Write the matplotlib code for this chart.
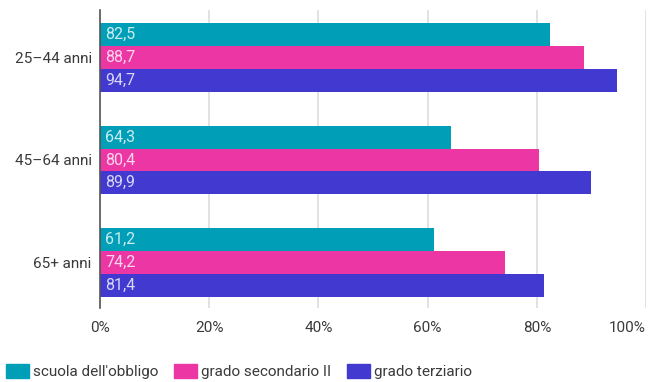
import matplotlib.pyplot as plt
from matplotlib.patches import Patch
import numpy as np

plt.rcParams['font.family'] = ['Roboto', 'DejaVu Sans']

# Dati
gruppi = ["25–44 anni", "45–64 anni", "65+ anni"]
serie = ["scuola dell'obbligo", "grado secondario II", "grado terziario"]
obbligo = [82.5, 64.3, 61.2]
secondario = [88.7, 80.4, 74.2]
terziario = [94.7, 89.9, 81.4]
colori = ["#009FB7", "#EC36A4", "#4139D0"]
tick_x = [0, 20, 40, 60, 80, 100]

valori = [obbligo, secondario, terziario]

fig = plt.figure(figsize=(6.48, 3.82), dpi=100)
ax = fig.add_axes([0.1543, 0.1937, 0.8427, 0.7801])

y = np.arange(len(gruppi))
h = 0.2215
for i, (vals, col) in enumerate(zip(valori, colori)):
    pos = y + (i - 1) * h
    ax.barh(pos, vals, height=h, color=col, zorder=3)
    for p, v in zip(pos, vals):
        ax.text(1.0, p, f"{v:.1f}".replace(".", ","), va="center", ha="left",
                color="white", alpha=0.8, fontsize=11.5, zorder=4)

ax.set_xlim(0, 100)
ax.set_ylim(2.444, -0.463)
ax.set_xticks(tick_x)
ax.set_xticklabels([f"{t}%" for t in tick_x])
ax.set_yticks(y)
ax.set_yticklabels(gruppi)
ax.tick_params(axis="both", length=0, labelsize=11, labelcolor="#3a3a3a")
ax.tick_params(axis="x", pad=9)
ax.tick_params(axis="y", pad=6)
# l'ultima etichetta resta dentro la figura
ax.get_xticklabels()[-1].set_horizontalalignment("right")
ax.get_xticklabels()[-1].set_x(1.0)

ax.grid(axis="x", color="#dddddd", linewidth=1.2, zorder=0)
for s in ["top", "right", "bottom"]:
    ax.spines[s].set_visible(False)
ax.spines["left"].set_color("#555555")
ax.spines["left"].set_linewidth(1.2)
ax.spines["left"].set_zorder(5)

handles = [Patch(color=c, label=s) for c, s in zip(colori, serie)]
leg = fig.legend(handles=handles, loc="lower left", bbox_to_anchor=(-0.003, -0.012),
                 ncol=3, frameon=False, fontsize=11, handlelength=1.5,
                 handleheight=1.0, handletextpad=0.3, columnspacing=1.0,
                 borderaxespad=0.1)
for t in leg.get_texts():
    t.set_color("#3a3a3a")

fig.savefig("out.png", dpi=100)
